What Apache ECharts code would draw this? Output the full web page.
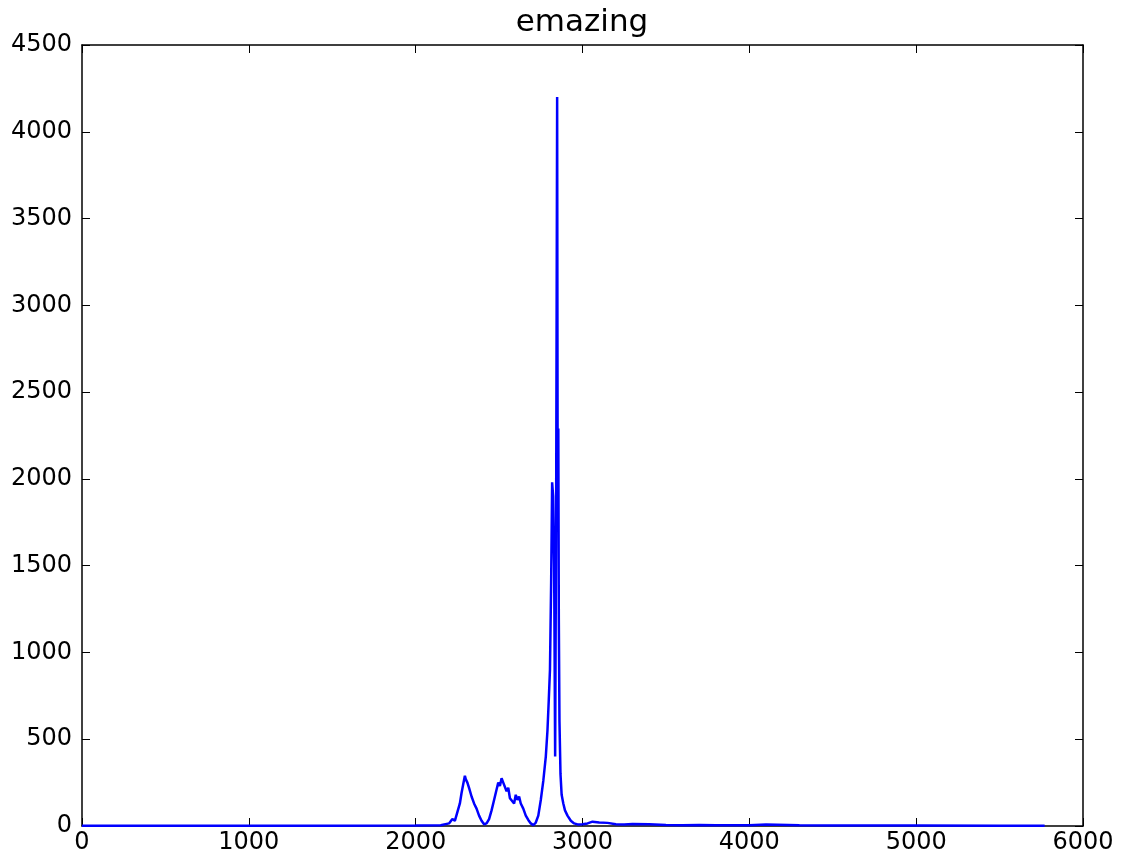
<!DOCTYPE html>
<html>
<head>
<meta charset="utf-8">
<title>emazing</title>
<script src="https://cdn.jsdelivr.net/npm/echarts@6/dist/echarts.min.js"></script>
<style>
  html, body { margin: 0; padding: 0; background: #fff; }
  #chart { width: 1122px; height: 861px; }
</style>
</head>
<body>
<div id="chart"></div>
<script>
// x positions and values
var xs = [0, 500, 1000, 1500, 2000, 2150, 2200, 2220, 2235, 2250, 2265, 2275, 2285, 2295, 2300,
  2310, 2320, 2335, 2350, 2365, 2380, 2395, 2410, 2425, 2440, 2455, 2470, 2485, 2495, 2505,
  2515, 2525, 2535, 2545, 2555, 2565, 2575, 2590, 2600, 2610, 2620, 2630, 2645, 2660, 2675,
  2690, 2705, 2720, 2735, 2750, 2765, 2780, 2790, 2798, 2805, 2812, 2818, 2824, 2830, 2836,
  2842, 2848, 2851, 2855, 2858, 2862, 2868, 2875, 2885, 2895, 2910, 2930, 2950, 2975, 3000,
  3030, 3060, 3100, 3150, 3200, 3250, 3300, 3400, 3500, 3600, 3700, 3800, 4000, 4100, 4300,
  4500, 5000, 5500, 5770];
var ys = [2, 2, 2, 2, 3, 4, 15, 40, 30, 80, 130, 190, 240, 290, 270,
  250, 220, 170, 130, 100, 60, 30, 10, 15, 40, 90, 150, 210, 250, 230,
  275, 250, 260, 200, 220, 160, 170, 130, 180, 150, 170, 130, 100, 60, 35,
  15, 5, 20, 60, 150, 260, 400, 550, 730, 900, 1400, 1980, 1900, 1500, 400,
  1800, 4200, 2000, 2290, 1200, 600, 300, 180, 130, 90, 60, 30, 15, 8, 10,
  15, 25, 20, 18, 10, 8, 12, 10, 6, 5, 6, 4, 5, 8, 4,
  3, 3, 2, 2];
var xTicks = [0, 1000, 2000, 3000, 4000, 5000, 6000];
var yTicks = [0, 500, 1000, 1500, 2000, 2500, 3000, 3500, 4000, 4500];

var data = xs.map(function (x, i) { return [x, ys[i]] });

var chart = echarts.init(document.getElementById('chart'));

var labelFont = {
  color: '#000',
  fontSize: 24,
  fontFamily: 'DejaVu Sans',
  formatter: function (v) { return String(v) }
};
var tick = {
  show: true,
  inside: true,
  length: 8,
  lineStyle: { color: '#000', width: 1 }
};
var line = { show: true, onZero: false, lineStyle: { color: '#000', width: 1.5 } };

chart.setOption({
  animation: false,
  backgroundColor: '#fff',
  title: {
    text: 'emazing',
    left: 577,
    textAlign: 'center',
    top: 2,
    textStyle: { color: '#000', fontSize: 31, fontWeight: 'normal', fontFamily: 'DejaVu Sans' }
  },
  grid: { left: 82, right: 39, top: 45, bottom: 35, containLabel: false },
  xAxis: [{
    type: 'value',
    min: xTicks[0],
    max: xTicks[xTicks.length - 1],
    interval: 1000,
    axisLine: line,
    axisTick: tick,
    splitLine: { show: false },
    axisLabel: Object.assign({ margin: 5 }, labelFont)
  }, {
    type: 'value',
    position: 'top',
    min: xTicks[0],
    max: xTicks[xTicks.length - 1],
    interval: 1000,
    axisLine: line,
    axisTick: tick,
    splitLine: { show: false },
    axisLabel: { show: false }
  }],
  yAxis: [{
    type: 'value',
    min: yTicks[0],
    max: yTicks[yTicks.length - 1],
    interval: 500,
    axisLine: line,
    axisTick: tick,
    splitLine: { show: false },
    axisLabel: Object.assign({ margin: 10 }, labelFont)
  }, {
    type: 'value',
    position: 'right',
    min: yTicks[0],
    max: yTicks[yTicks.length - 1],
    interval: 500,
    axisLine: line,
    axisTick: tick,
    splitLine: { show: false },
    axisLabel: { show: false }
  }],
  series: [{
    type: 'line',
    data: data,
    symbol: 'none',
    lineStyle: { color: '#0000ff', width: 2.5 },
    z: 1
  }]
});
</script>
</body>
</html>
